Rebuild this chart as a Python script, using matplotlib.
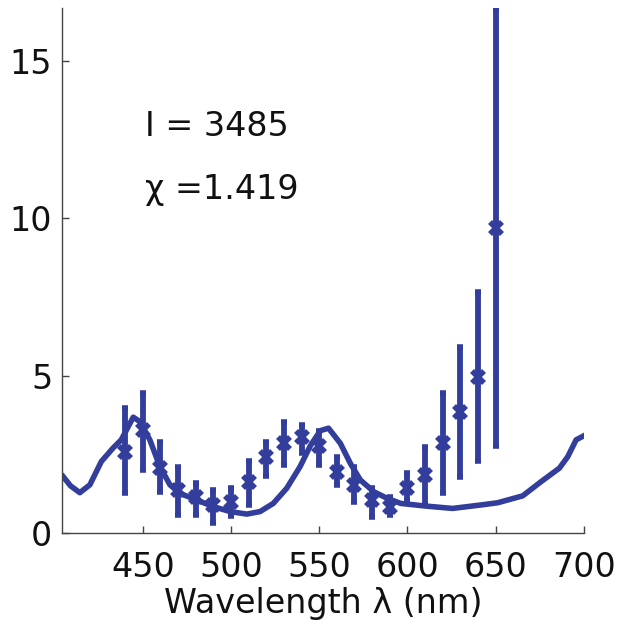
import numpy as np
import matplotlib.pyplot as plt

plt.rcParams['font.family'] = ['DejaVu Sans']

# measured points with error bars
wl = [440, 450, 460, 470, 480, 490, 500, 510, 520, 530, 540, 550,
      560, 570, 580, 590, 600, 610, 620, 630, 640, 650]
val = [2.58, 3.27, 2.06, 1.37, 1.15, 0.89, 0.99, 1.63, 2.42, 2.85, 3.04, 2.76,
       1.95, 1.53, 1.05, 0.84, 1.42, 1.84, 2.85, 3.85, 4.97, 9.68]
upper = [3.96, 4.44, 2.90, 2.11, 1.60, 1.37, 1.42, 2.29, 2.90, 3.54, 3.43, 3.25,
         2.42, 2.11, 1.42, 1.15, 1.90, 2.74, 4.44, 5.91, 7.65, 16.64]
lower = [1.26, 2.00, 1.31, 0.57, 0.57, 0.31, 0.54, 0.89, 1.81, 2.16, 2.53, 2.16,
         1.53, 0.99, 0.52, 0.57, 0.99, 0.89, 1.28, 1.79, 2.29, 2.76]

# fitted model curve
fit_wl = [404.2, 409, 414.3, 420, 426.5, 433, 437.8, 444.6, 448.3, 454, 459.7,
          465.4, 471, 480.5, 489.8, 499.5, 509, 516.5, 524, 531.6, 539.2, 544.9,
          550.6, 555.3, 562, 567.7, 573.4, 581, 588.6, 596.2, 609.5, 625.6,
          641.7, 651.2, 665.4, 675.8, 686.2, 690.9, 695.7, 700.8]
fit_val = [1.84, 1.5, 1.28, 1.53, 2.27, 2.69, 2.96, 3.68, 3.54, 2.96, 2.11,
           1.53, 1.26, 1.05, 0.84, 0.68, 0.60, 0.68, 0.94, 1.42, 2.11, 2.76,
           3.25, 3.33, 2.85, 2.21, 1.68, 1.31, 1.10, 0.94, 0.86, 0.78,
           0.89, 0.96, 1.18, 1.63, 2.06, 2.42, 2.96, 3.11]

col = '#333D9B'
fs = 24

fig = plt.figure(figsize=(6.28, 6.28), dpi=100)
ax = fig.add_axes([0.0987, 0.1513, 0.8308, 0.8355])

val = np.array(val)
yerr = [val - np.array(lower), np.array(upper) - val]
ax.errorbar(wl, val, yerr=yerr, fmt='x', color=col, ecolor=col,
            elinewidth=4.2, capsize=2.5, capthick=3, markersize=8,
            markeredgewidth=4, zorder=3)
ax.plot(fit_wl, fit_val, '-', color=col, linewidth=4, zorder=2,
        solid_capstyle='round')

ax.set_xlim(404.2, 700)
ax.set_ylim(0, 16.67)
ax.set_xticks([450, 500, 550, 600, 650, 700])
ax.set_yticks([0, 5, 10, 15])

for s in ['top', 'right']:
    ax.spines[s].set_visible(False)
for s in ['left', 'bottom']:
    ax.spines[s].set_color('#444444')
    ax.spines[s].set_linewidth(1.0)
ax.tick_params(direction='in', length=5, width=1.0, colors='#444444',
               labelcolor='#111111', labelsize=fs)
ax.tick_params(axis='x', pad=13)
ax.tick_params(axis='y', pad=7)

ax.set_xlabel('Wavelength λ (nm)', fontsize=fs, color='#111111', labelpad=2)

ax.text(451, 12.9, 'I = 3485', fontsize=fs, color='#111111', va='center')
ax.text(451, 10.9, 'χ =1.419', fontsize=fs, color='#111111', va='center')

fig.savefig('out.png', dpi=100)
